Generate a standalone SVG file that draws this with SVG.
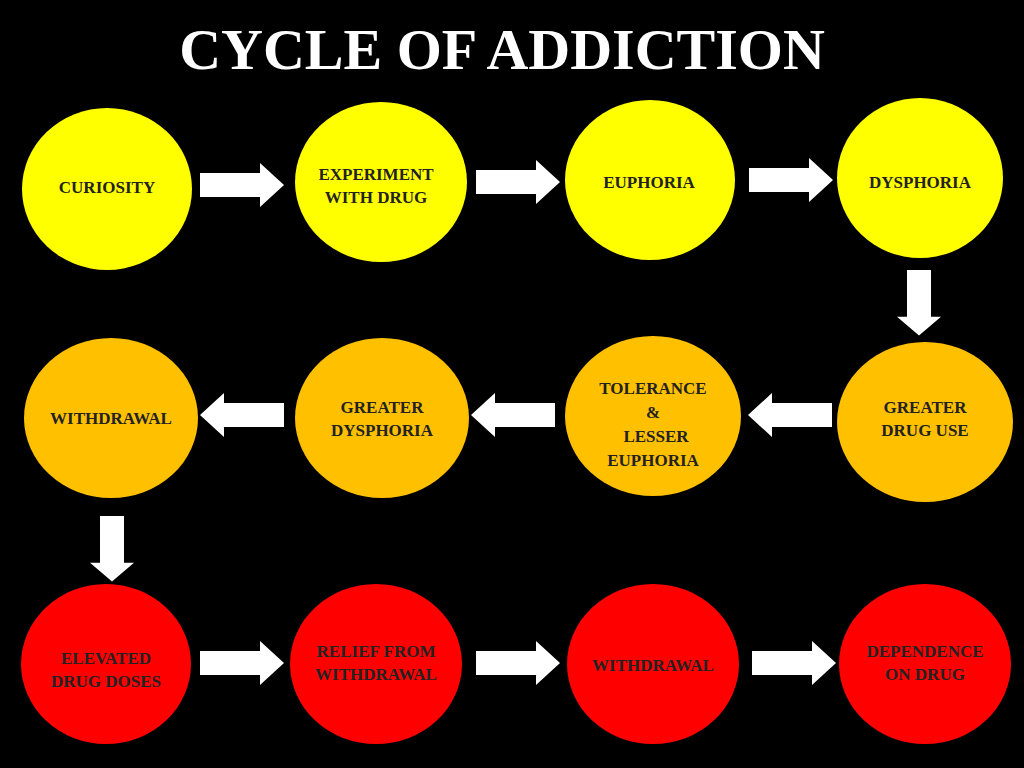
<svg xmlns="http://www.w3.org/2000/svg" xmlns:xlink="http://www.w3.org/1999/xlink" width="1024" height="768" viewBox="0 0 1024 768">
<style>
.t{font-family:"Liberation Serif",serif;font-weight:bold;font-size:17px;fill:#222;text-anchor:middle}
.y{fill:#FFFF00}.o{fill:#FFC000}.r{fill:#FF0000}
</style>
<defs><path id="ar" d="M0,-12H60V-22L84,0L60,22V12H0Z" fill="#fff"/></defs>
<rect width="1024" height="768" fill="#000"/>
<text x="502" y="69" font-family="Liberation Serif,serif" font-weight="bold" font-size="58" fill="#fff" text-anchor="middle">CYCLE OF ADDICTION</text>
<g id="n1"><ellipse class="y" cx="107" cy="189" rx="85" ry="81"/><text class="t" x="107" y="193">CURIOSITY</text></g>
<g id="n2"><ellipse class="y" cx="381" cy="182" rx="86" ry="80"/><text class="t" x="376" y="180">EXPERIMENT</text><text class="t" x="376" y="203">WITH DRUG</text></g>
<g id="n3"><ellipse class="y" cx="650" cy="180" rx="85" ry="80"/><text class="t" x="649" y="188">EUPHORIA</text></g>
<g id="n4"><ellipse class="y" cx="920" cy="178" rx="83" ry="80"/><text class="t" x="920" y="188">DYSPHORIA</text></g>
<g id="n5"><ellipse class="o" cx="925" cy="422" rx="88" ry="80"/><text class="t" x="925" y="413">GREATER</text><text class="t" x="925" y="436">DRUG USE</text></g>
<g id="n6"><ellipse class="o" cx="653" cy="416" rx="88" ry="80"/><text class="t" x="653" y="394">TOLERANCE</text><text class="t" x="653" y="418">&amp;</text><text class="t" x="656" y="442">LESSER</text><text class="t" x="653" y="466">EUPHORIA</text></g>
<g id="n7"><ellipse class="o" cx="382" cy="418" rx="87" ry="80"/><text class="t" x="382" y="413">GREATER</text><text class="t" x="382" y="436">DYSPHORIA</text></g>
<g id="n8"><ellipse class="o" cx="111" cy="418" rx="87" ry="80"/><text class="t" x="111" y="424">WITHDRAWAL</text></g>
<g id="n9"><ellipse class="r" cx="106" cy="664" rx="85" ry="80"/><text class="t" x="106" y="664">ELEVATED</text><text class="t" x="106" y="687">DRUG DOSES</text></g>
<g id="n10"><ellipse class="r" cx="376" cy="664" rx="86" ry="80"/><text class="t" x="376" y="657">RELIEF FROM</text><text class="t" x="376" y="680">WITHDRAWAL</text></g>
<g id="n11"><ellipse class="r" cx="653" cy="664" rx="86" ry="80"/><text class="t" x="653" y="671">WITHDRAWAL</text></g>
<g id="n12"><ellipse class="r" cx="925" cy="664" rx="86" ry="80"/><text class="t" x="925" y="657">DEPENDENCE</text><text class="t" x="925" y="680">ON DRUG</text></g>
<g id="connectors">
<use xlink:href="#ar" transform="translate(200,185)"/>
<use xlink:href="#ar" transform="translate(476,182)"/>
<use xlink:href="#ar" transform="translate(749,180)"/>
<use xlink:href="#ar" transform="translate(919,270) rotate(90) scale(0.78,1)"/>
<use xlink:href="#ar" transform="translate(832,415) rotate(180)"/>
<use xlink:href="#ar" transform="translate(555,415) rotate(180)"/>
<use xlink:href="#ar" transform="translate(284,415) rotate(180)"/>
<use xlink:href="#ar" transform="translate(112,516) rotate(90) scale(0.78,1)"/>
<use xlink:href="#ar" transform="translate(200,663)"/>
<use xlink:href="#ar" transform="translate(476,663)"/>
<use xlink:href="#ar" transform="translate(752,663)"/>
</g>
</svg>
